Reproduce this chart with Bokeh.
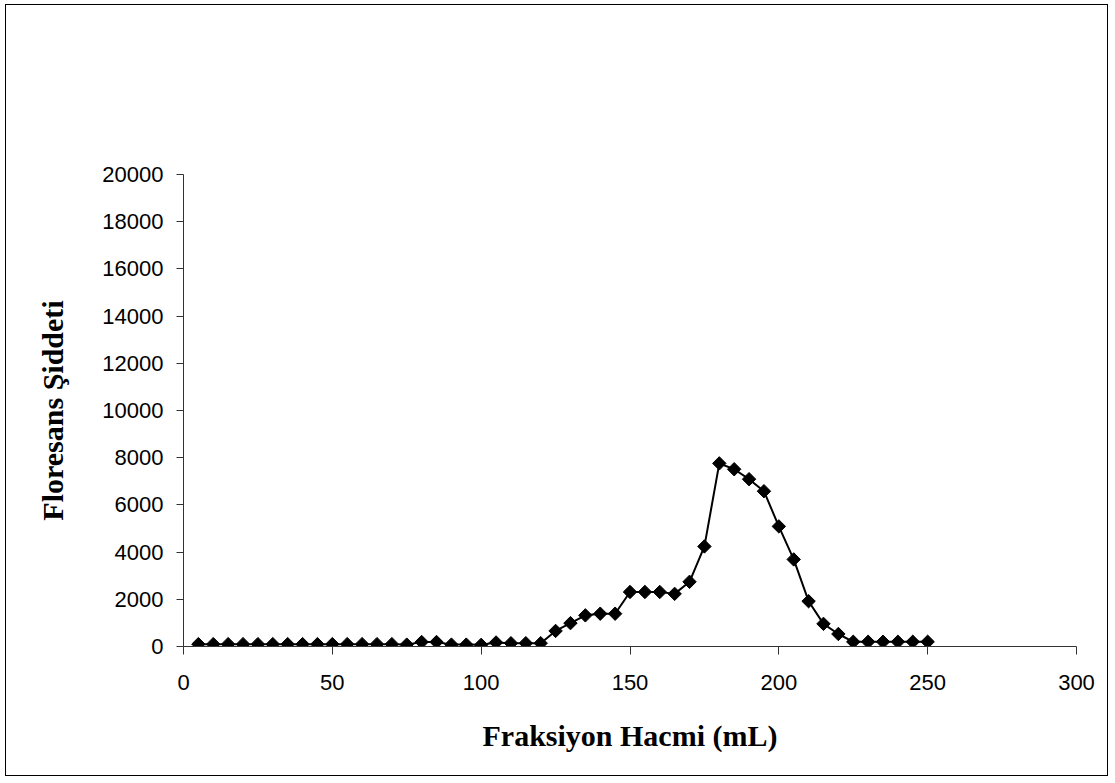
from bokeh.plotting import figure
from bokeh.models import Range1d, FixedTicker
from bokeh.embed import file_html
from bokeh.resources import INLINE
from math import pi

# Fraction volume (mL) and fluorescence intensity
fraction_ml = [5, 10, 15, 20, 25, 30, 35, 40, 45, 50,
               55, 60, 65, 70, 75, 80, 85, 90, 95, 100,
               105, 110, 115, 120, 125, 130, 135, 140, 145, 150,
               155, 160, 165, 170, 175, 180, 185, 190, 195, 200,
               205, 210, 215, 220, 225, 230, 235, 240, 245, 250]
intensity = [100, 100, 100, 100, 100, 100, 100, 100, 100, 100,
             100, 100, 100, 100, 80, 190, 190, 80, 80, 70,
             170, 140, 140, 140, 660, 990, 1320, 1390, 1390, 2310,
             2310, 2310, 2230, 2740, 4240, 7760, 7510, 7090, 6580, 5090,
             3690, 1920, 960, 530, 200, 200, 200, 200, 200, 200]

x_ticks = [0, 50, 100, 150, 200, 250, 300]
y_ticks = [0, 2000, 4000, 6000, 8000, 10000, 12000, 14000, 16000, 18000, 20000]

p = figure(width=1103, height=772, output_backend="svg", toolbar_location=None,
           x_range=Range1d(0, 300), y_range=Range1d(0, 20000),
           min_border_left=177, min_border_right=33,
           min_border_top=169, min_border_bottom=131)

# chart area border drawn around the whole canvas
p.margin = (4, 0, 0, 5)
p.styles = {"border": "1px solid black"}

p.background_fill_color = "white"
p.border_fill_color = "white"
p.outline_line_color = None
p.xgrid.visible = False
p.ygrid.visible = False

for ax in (p.xaxis[0], p.yaxis[0]):
    ax.axis_line_color = "#333333"
    ax.axis_line_width = 1
    ax.major_tick_line_color = "#333333"
    ax.major_tick_in = 0
    ax.minor_tick_line_color = None
    ax.major_label_text_font = "Liberation Sans"
    ax.major_label_text_font_size = "22px"
    ax.major_label_text_color = "black"
    ax.axis_label_text_font = "Liberation Serif"
    ax.axis_label_text_font_style = "bold"
    ax.axis_label_text_font_size = "30px"
    ax.axis_label_text_color = "black"

p.xaxis.ticker = FixedTicker(ticks=x_ticks)
p.yaxis.ticker = FixedTicker(ticks=y_ticks)
p.xaxis.major_tick_out = 8
p.yaxis.major_tick_out = 7
p.xaxis.major_label_standoff = 20
p.yaxis.major_label_standoff = 13
p.xaxis.axis_label = "Fraksiyon Hacmi (mL)"
p.yaxis.axis_label = "Floresans Şiddeti"
p.xaxis.axis_label_standoff = 26
p.yaxis.axis_label_standoff = 30

p.line(fraction_ml, intensity, line_color="black", line_width=2)
p.scatter(fraction_ml, intensity, marker="square", angle=pi / 4, size=9.5,
          fill_color="black", line_color="black")

open("out.html", "w").write(file_html(p, INLINE))
